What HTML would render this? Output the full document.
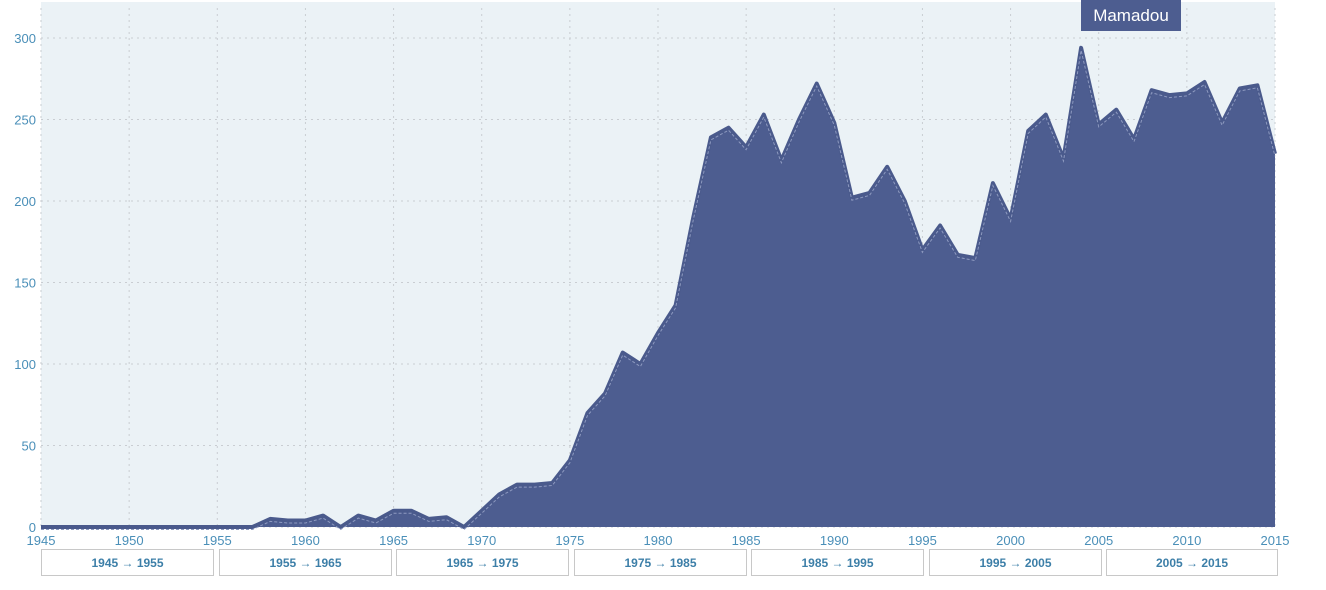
<!DOCTYPE html>
<html><head><meta charset="utf-8"><style>
body{margin:0;background:#fff;width:1326px;height:590px;overflow:hidden;font-family:"Liberation Sans",sans-serif}
svg{position:absolute;left:0;top:0}
.btn{position:absolute;top:549px;width:170px;height:27px;border:1px solid #c8c8c8;background:#fff;color:#3d7fa8;font-size:12px;font-weight:bold;text-align:center;line-height:27px;box-sizing:border-box}
.tip{position:absolute;left:1081px;top:0;width:100px;height:31px;background:#4d5d90;color:#fff;font-size:17px;text-align:center;line-height:31px}
</style></head><body>
<svg id="s" width="1326" height="590"></svg>
<div class="tip">Mamadou</div>
<div id="b"></div>
<script>
var d=[0,0,0,0,0,0,0,0,0,0,0,0,0,5,4,4,7,0,7,4,10,10,5,6,0,10,20,26,26,27,41,70,82,107,100,119,136,190,239,245,233,253,225,250,272,248,202,205,221,200,170,185,167,165,211,189,243,253,226,294,247,256,238,268,265,266,273,248,269,271,229];
function X(i){return 41+i*1234/70}function Y(v){return 527-v*1.63}
var h='<rect x="41" y="2" width="1234" height="525" fill="#ebf2f6"/>';
for(var y=0;y<=300;y+=50){h+='<line x1="41" x2="1275" y1="'+Y(y)+'" y2="'+Y(y)+'" stroke="#c9cdd2" stroke-dasharray="2,4"/>';h+='<text x="36" y="'+(Y(y)+5)+'" text-anchor="end" font-size="13" fill="#4a8fb8">'+y+'</text>'}
for(var yr=1945;yr<=2015;yr+=5){var x=X(yr-1945);h+='<line x1="'+x+'" x2="'+x+'" y1="8" y2="527" stroke="#c9cdd2" stroke-dasharray="2,4"/>';h+='<text x="'+x+'" y="545" text-anchor="middle" font-size="13" fill="#4a8fb8">'+yr+'</text>'}
var p=d.map(function(v,i){return X(i).toFixed(1)+','+Y(v).toFixed(1)}).join(' ');
h+='<polygon points="41,527 '+p+' 1275,527" fill="#4d5d90"/>';
h+='<polyline points="'+p+'" fill="none" stroke="#4a5a8c" stroke-width="4" stroke-linejoin="round"/>';
var p2=d.map(function(v,i){return X(i).toFixed(1)+','+(Y(v)+2.5).toFixed(1)}).join(' ');
h+='<polyline points="'+p2+'" fill="none" stroke="#8e9ac0" stroke-width="1" stroke-dasharray="3,2"/>';
document.getElementById('s').innerHTML=h;
var L=[41,219,396,574,751,929,1106],t='';
for(var i=0;i<7;i++){var a=1945+i*10;t+='<div class="btn" style="left:'+L[i]+'px;width:'+(i==6?172:173)+'px">'+a+' \u2192 '+(a+10)+'</div>'}
document.getElementById('b').innerHTML=t;
</script>
</body></html>
